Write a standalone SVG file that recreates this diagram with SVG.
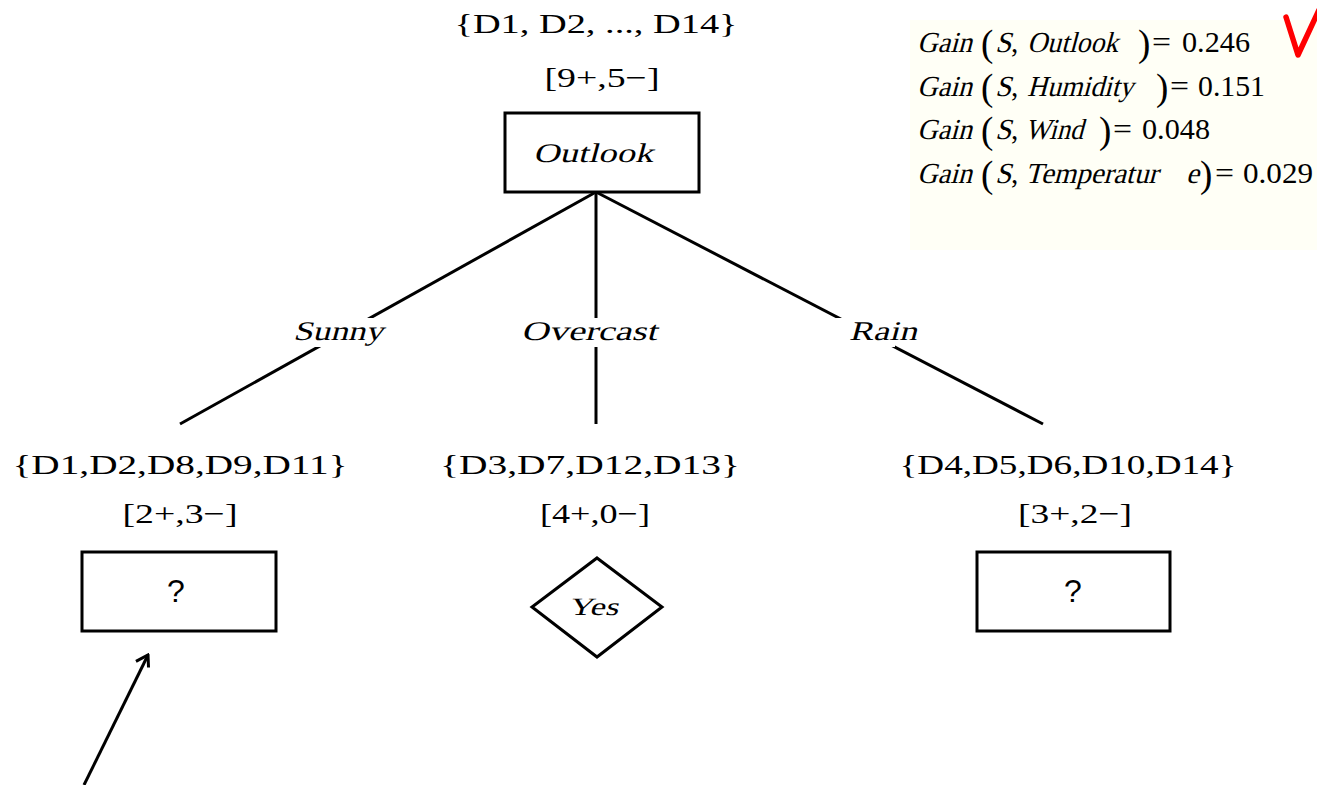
<svg xmlns="http://www.w3.org/2000/svg" width="1317" height="785" viewBox="0 0 1317 785">
<defs>
<style>
text{font-family:"Liberation Serif","Times New Roman",serif;fill:#000}
.set{font-size:28px;text-anchor:middle}
.lab{font-size:27px}
.q{font-family:"Liberation Sans",Arial,sans-serif;font-size:32px;text-anchor:middle}
.box{fill:#fff;stroke:#000;stroke-width:3}
.edge{stroke:#000;stroke-width:3;fill:none}
.g{font-size:29px}
.p{font-size:37px}
.gap{fill:#fff}
</style>
<marker id="open" viewBox="-12 -10 14 20" refX="0" refY="0" markerWidth="14" markerHeight="20" markerUnits="userSpaceOnUse" orient="auto">
<path d="M -11 -8 L 0 0 L -11 6" fill="none" stroke="#000" stroke-width="3"/>
</marker>
</defs>
<rect width="1317" height="785" fill="#fff"/>

<g id="gain-panel">
<rect x="910" y="20" width="407" height="230" fill="#fffff6"/>
<!-- row 1 -->
<text class="g" transform="translate(917,52) skewX(-15)" textLength="55" lengthAdjust="spacingAndGlyphs">Gain</text>
<text class="p" x="981" y="56">(</text>
<text class="g" transform="translate(995,52) skewX(-15)">S</text>
<text class="g" x="1011" y="52">,</text>
<text class="g" transform="translate(1027,52) skewX(-15)" textLength="91" lengthAdjust="spacingAndGlyphs">Outlook</text>
<text class="p" x="1138" y="56">)</text>
<text class="g" x="1152" y="52" textLength="19" lengthAdjust="spacingAndGlyphs">=</text>
<text class="g" x="1182" y="52" textLength="68" lengthAdjust="spacingAndGlyphs">0.246</text>
<!-- row 2 -->
<text class="g" transform="translate(917,96) skewX(-15)" textLength="55" lengthAdjust="spacingAndGlyphs">Gain</text>
<text class="p" x="981" y="100">(</text>
<text class="g" transform="translate(995,96) skewX(-15)">S</text>
<text class="g" x="1011" y="96">,</text>
<text class="g" transform="translate(1027,96) skewX(-15)" textLength="106" lengthAdjust="spacingAndGlyphs">Humidity</text>
<text class="p" x="1156" y="100">)</text>
<text class="g" x="1170" y="96" textLength="19" lengthAdjust="spacingAndGlyphs">=</text>
<text class="g" x="1198" y="96" textLength="67" lengthAdjust="spacingAndGlyphs">0.151</text>
<!-- row 3 -->
<text class="g" transform="translate(917,139) skewX(-15)" textLength="55" lengthAdjust="spacingAndGlyphs">Gain</text>
<text class="p" x="981" y="143">(</text>
<text class="g" transform="translate(995,139) skewX(-15)">S</text>
<text class="g" x="1011" y="139">,</text>
<text class="g" transform="translate(1025,139) skewX(-15)" textLength="58" lengthAdjust="spacingAndGlyphs">Wind</text>
<text class="p" x="1099" y="143">)</text>
<text class="g" x="1113" y="139" textLength="19" lengthAdjust="spacingAndGlyphs">=</text>
<text class="g" x="1142" y="139" textLength="68" lengthAdjust="spacingAndGlyphs">0.048</text>
<!-- row 4 -->
<text class="g" transform="translate(917,183) skewX(-15)" textLength="55" lengthAdjust="spacingAndGlyphs">Gain</text>
<text class="p" x="981" y="187">(</text>
<text class="g" transform="translate(995,183) skewX(-15)">S</text>
<text class="g" x="1011" y="183">,</text>
<text class="g" transform="translate(1025,183) skewX(-15)" textLength="133" lengthAdjust="spacingAndGlyphs">Temperatur</text>
<text class="g" transform="translate(1186,183) skewX(-15)">e</text>
<text class="p" x="1200" y="187">)</text>
<text class="g" x="1215" y="183" textLength="19" lengthAdjust="spacingAndGlyphs">=</text>
<text class="g" x="1243" y="183" textLength="70" lengthAdjust="spacingAndGlyphs">0.029</text>
<polyline points="1286,17 1298,55 1319,10" fill="none" stroke="#f00" stroke-width="5.5" stroke-linejoin="round" stroke-linecap="round"/>
</g>

<g id="connectors">
<line class="edge" x1="596" y1="192" x2="180" y2="424"/>
<line class="edge" x1="596" y1="192" x2="596" y2="424"/>
<line class="edge" x1="596" y1="192" x2="1043" y2="424"/>
<line class="edge" x1="84" y1="785" x2="148" y2="655" marker-end="url(#open)"/>
</g>

<g id="edge-labels">
<rect class="gap" x="300" y="318" width="90" height="29"/>
<text class="lab" transform="translate(293,340) skewX(-15)" textLength="90" lengthAdjust="spacingAndGlyphs">Sunny</text>
<rect class="gap" x="586" y="318" width="20" height="29"/>
<text class="lab" transform="translate(521,340) skewX(-15)" textLength="136" lengthAdjust="spacingAndGlyphs">Overcast</text>
<rect class="gap" x="835" y="318" width="60" height="29"/>
<text class="lab" transform="translate(849,340) skewX(-15)" textLength="68" lengthAdjust="spacingAndGlyphs">Rain</text>
</g>

<g id="node-root">
<text class="set" x="596" y="33" textLength="283" lengthAdjust="spacingAndGlyphs">{D1, D2, ..., D14}</text>
<text class="set" x="602" y="87" textLength="115" lengthAdjust="spacingAndGlyphs">[9+,5−]</text>
<rect class="box" x="505" y="113" width="194" height="79"/>
<text class="lab" transform="translate(533,162) skewX(-15)" textLength="120" lengthAdjust="spacingAndGlyphs">Outlook</text>
</g>

<g id="node-sunny">
<text class="set" x="180" y="474" textLength="335" lengthAdjust="spacingAndGlyphs">{D1,D2,D8,D9,D11}</text>
<text class="set" x="180" y="523" textLength="115" lengthAdjust="spacingAndGlyphs">[2+,3−]</text>
<rect class="box" x="82" y="552" width="194" height="79"/>
<text class="q" x="176" y="602">?</text>
</g>

<g id="node-overcast">
<text class="set" x="590" y="474" textLength="300" lengthAdjust="spacingAndGlyphs">{D3,D7,D12,D13}</text>
<text class="set" x="595" y="523" textLength="110" lengthAdjust="spacingAndGlyphs">[4+,0−]</text>
<polygon class="box" points="597,558 662,607 597,657 532,607"/>
<text class="lab" transform="translate(568,615) skewX(-15)" textLength="50" lengthAdjust="spacingAndGlyphs" style="font-size:25px">Yes</text>
</g>

<g id="node-rain">
<text class="set" x="1068" y="474" textLength="337" lengthAdjust="spacingAndGlyphs">{D4,D5,D6,D10,D14}</text>
<text class="set" x="1075" y="523" textLength="114" lengthAdjust="spacingAndGlyphs">[3+,2−]</text>
<rect class="box" x="977" y="552" width="193" height="79"/>
<text class="q" x="1073" y="602">?</text>
</g>
</svg>
